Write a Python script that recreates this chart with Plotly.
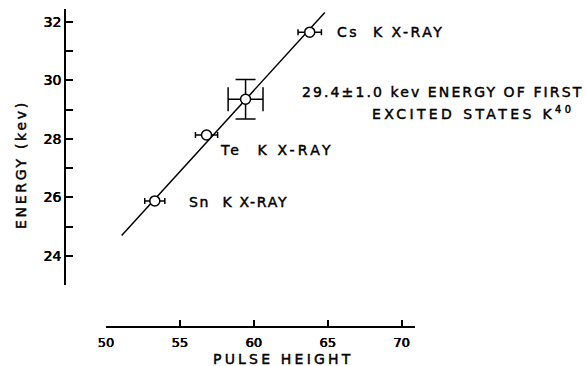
import plotly.graph_objects as go

# ---- data ----
sources = ["Sn  K X-RAY", "Te  K X-RAY", "Cs  K X-RAY"]
pulse_height = [53.3, 56.8, 63.78]
energy_kev = [25.88, 28.13, 31.64]
pulse_err = [0.68, 0.75, 0.79]

k40_pulse = [59.44]
k40_energy = [29.35]
k40_pulse_err = [1.18]
k40_energy_err = [0.67]

fit_pulse = [51.06, 64.8]
fit_energy = [24.7, 32.31]

x_ticks = [50, 55, 60, 65, 70]
y_ticks = [24, 26, 28, 30, 32]

FONT = "DejaVu Sans"
INK = "#000000"
SHADOW = "0.35px 0 0 #000, -0.35px 0 0 #000"

fig = go.Figure()

fig.add_trace(go.Scatter(
    x=fit_pulse, y=fit_energy, mode="lines",
    line=dict(color=INK, width=1.5), hoverinfo="skip", showlegend=False))

fig.add_trace(go.Scatter(
    x=pulse_height, y=energy_kev, mode="markers", text=sources,
    marker=dict(symbol="circle", size=10, color="white",
                line=dict(color=INK, width=1.5)),
    error_x=dict(type="data", array=pulse_err, color=INK, thickness=1.5, width=3),
    showlegend=False))

fig.add_trace(go.Scatter(
    x=k40_pulse, y=k40_energy, mode="markers",
    marker=dict(symbol="circle", size=10, color="white",
                line=dict(color=INK, width=1.5)),
    error_x=dict(type="data", array=k40_pulse_err, color=INK, thickness=1.5, width=12),
    error_y=dict(type="data", array=k40_energy_err, color=INK, thickness=1.5, width=10),
    showlegend=False))

# plot area in pixels: left 65, right 415, top 9, bottom 327
L, R, T, B = 65, 415, 9, 327
W, H = 586, 366


def px(xp):
    return (xp - L) / (R - L)


def py(yp):
    return (B - yp) / (B - T)


def spaced(s, sp):
    return ("<span style='letter-spacing:%.1fpx;stroke:#000;stroke-width:0.45px'>%s</span>"
            % (sp, s))


fig.update_layout(
    width=W, height=H,
    margin=dict(l=L, r=W - R, t=T, b=H - B, pad=0),
    paper_bgcolor="white", plot_bgcolor="white",
    font=dict(family=FONT, size=14, color=INK),
    xaxis=dict(
        domain=[px(106), 1], range=[50, 70.9], anchor="free", position=0,
        tickvals=x_ticks, ticks="inside", ticklen=6, tickwidth=1.5, tickcolor=INK,
        ticklabelstandoff=4,
        showline=True, linecolor=INK, linewidth=1.5, showgrid=False, zeroline=False,
        tickfont=dict(family=FONT, size=13, color=INK, shadow=SHADOW),
    ),
    yaxis=dict(
        domain=[py(285.3), 1], range=[23, 32.43], anchor="free", position=0,
        tickvals=y_ticks, ticks="inside", ticklen=7, tickwidth=1.5, tickcolor=INK,
        minor=dict(dtick=1, tick0=23, ticks="inside", ticklen=7, tickwidth=1.5, tickcolor=INK),
        showline=True, linecolor=INK, linewidth=1.5, showgrid=False, zeroline=False,
        tickfont=dict(family=FONT, size=14, color=INK, shadow=SHADOW),
    ),
)

annots = [
    dict(text=spaced("Cs  K X-RAY", 2.5), x=px(335), y=py(32), xanchor="left"),
    dict(text=spaced("Te  K X-RAY", 3.2), x=px(218), y=py(150), xanchor="left"),
    dict(text=spaced("Sn  K X-RAY", 1.7), x=px(187), y=py(202), xanchor="left"),
    dict(text=spaced("29.4±1.0 kev ENERGY OF FIRST", 2.1), x=px(300), y=py(92), xanchor="left"),
    dict(text=spaced("EXCITED STATES K<sup>40</sup>", 3.4), x=px(370), y=py(113), xanchor="left"),
    dict(text=spaced("PULSE HEIGHT", 3.2), x=px(283), y=py(359), xanchor="center"),
    dict(text=spaced("ENERGY (kev)", 2.7), x=px(21), y=py(165), xanchor="center", textangle=-90),
]
for a in annots:
    fig.add_annotation(xref="paper", yref="paper", yanchor="middle", showarrow=False,
                       font=dict(family=FONT, size=14, color=INK), **a)

fig.write_html("out.html", config={"displayModeBar": False},
               post_script="document.body.style.margin='0';")
